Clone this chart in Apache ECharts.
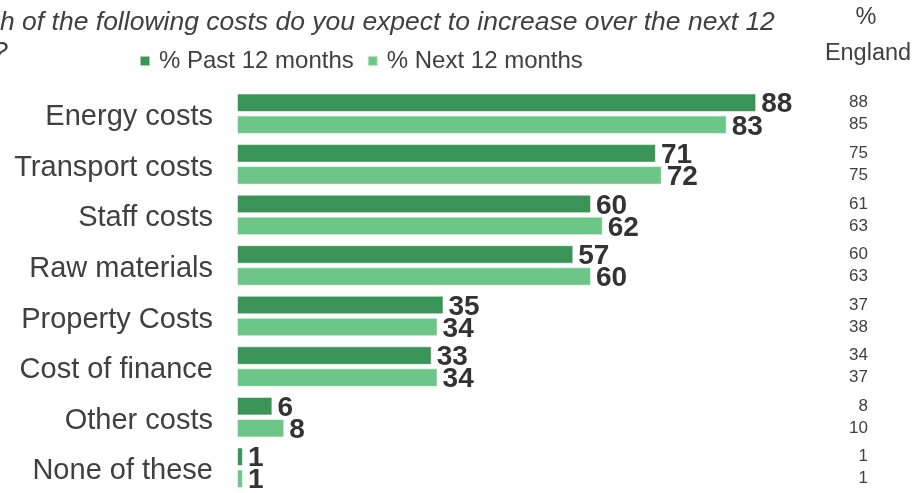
<!DOCTYPE html>
<html>
<head>
<meta charset="utf-8">
<script src="https://cdn.jsdelivr.net/npm/echarts@6/dist/echarts.min.js"></script>
<style>
  html, body { margin: 0; padding: 0; background: #fff; }
  #chart { width: 914px; height: 493px; }
</style>
</head>
<body>
<div id="chart"></div>
<script>
// Cost categories, top to bottom
const categories = ['Energy costs', 'Transport costs', 'Staff costs', 'Raw materials',
  'Property Costs', 'Cost of finance', 'Other costs', 'None of these'];
// Share of businesses reporting increases (%)
const pastValues = [88, 71, 60, 57, 35, 33, 6, 1];
const nextValues = [83, 72, 62, 60, 34, 34, 8, 1];
// England comparison figures (%)
const englandPast = [88, 75, 61, 60, 37, 34, 8, 1];
const englandNext = [85, 75, 63, 63, 38, 37, 10, 1];

const seriesNames = ['% Past 12 months', '% Next 12 months'];
const titleLine = 'h of the following costs do you expect to increase over the next 12';

const DARK = '#3b9457';
const LIGHT = '#6cc687';
const TEXT = '#404040';
const FONT = '"Liberation Sans", Arial, sans-serif';

const chart = echarts.init(document.getElementById('chart'), null, { renderer: 'canvas' });

const BAR_W = 18.5;
const BAR_OFFSET = 11;

// Right-hand column of England figures, one per bar
function englandSeries(values, offset) {
  return {
    type: 'custom',
    data: values.map((v, i) => [0, i, v]),
    encode: { x: 0, y: 1 },
    clip: false,
    silent: true,
    renderItem: function (params, api) {
      const y = api.coord([0, api.value(1)])[1] + offset;
      return {
        type: 'text',
        x: 868,
        y: y,
        style: {
          text: String(api.value(2)),
          textAlign: 'right',
          textVerticalAlign: 'middle',
          fontSize: 17,
          fontFamily: FONT,
          fill: TEXT
        }
      };
    }
  };
}

const valueLabel = {
  show: true,
  position: 'right',
  distance: 5,
  offset: [0, 2],
  fontSize: 28,
  fontWeight: 'bold',
  fontFamily: FONT,
  color: '#333333'
};

chart.setOption({
  animation: false,
  textStyle: { fontFamily: FONT },
  graphic: [
    {
      type: 'text', x: 0, y: 22.5,
      style: { text: titleLine, fontSize: 26.5, fontStyle: 'italic', fontFamily: FONT, fill: TEXT, textVerticalAlign: 'middle' }
    },
    {
      type: 'text', x: -7, y: 52.5,
      style: { text: '?', fontSize: 26.5, fontStyle: 'italic', fontFamily: FONT, fill: TEXT, textVerticalAlign: 'middle' }
    },
    {
      type: 'text', x: 866, y: 18,
      style: { text: '%', fontSize: 23.5, fontFamily: FONT, fill: TEXT, textAlign: 'center', textVerticalAlign: 'middle' }
    },
    {
      type: 'text', x: 868, y: 54,
      style: { text: 'England', fontSize: 23.5, fontFamily: FONT, fill: TEXT, textAlign: 'center', textVerticalAlign: 'middle' }
    }
  ],
  legend: {
    data: seriesNames,
    left: 134,
    top: 44,
    icon: 'rect',
    itemWidth: 10,
    itemHeight: 10,
    itemGap: 13,
    textStyle: { fontSize: 24, color: TEXT, fontFamily: FONT, padding: [0, 0, 0, 4] }
  },
  grid: { left: 237, top: 88.5, width: 590, height: 413.3, containLabel: false },
  xAxis: {
    type: 'value', min: 0, max: 100,
    show: false
  },
  yAxis: {
    type: 'category',
    data: categories,
    inverse: true,
    axisLine: { show: false },
    axisTick: { show: false },
    splitLine: { show: false },
    axisLabel: {
      margin: 24,
      formatter: (v) => '{c|' + v + '}',
      rich: {
        c: { fontSize: 29, color: TEXT, fontFamily: FONT, padding: [7, 0, 0, 0] }
      }
    }
  },
  series: [
    {
      name: seriesNames[0], type: 'bar', data: pastValues,
      barWidth: BAR_W, barGap: '19%',
      itemStyle: { color: DARK, borderColor: 'rgba(255,255,255,0.55)', borderWidth: 1 },
      label: valueLabel
    },
    {
      name: seriesNames[1], type: 'bar', data: nextValues,
      barWidth: BAR_W, barGap: '19%',
      itemStyle: { color: LIGHT, borderColor: 'rgba(255,255,255,0.55)', borderWidth: 1 },
      label: valueLabel
    },
    englandSeries(englandPast, -BAR_OFFSET),
    englandSeries(englandNext, BAR_OFFSET)
  ]
});
</script>
</body>
</html>
